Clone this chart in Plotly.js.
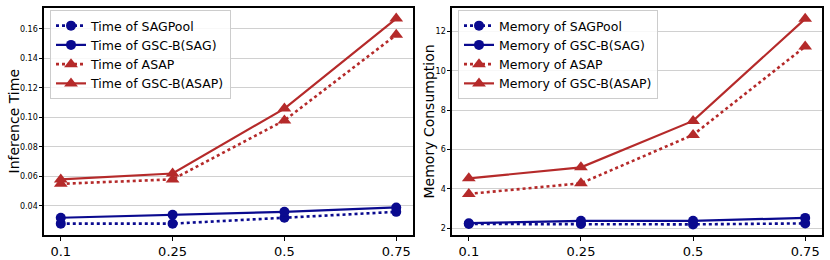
<!DOCTYPE html>
<html>
<head>
<meta charset="utf-8">
<script src="https://cdn.plot.ly/plotly-3.0.1.min.js"></script>
<style>html,body{margin:0;padding:0;background:#fff;}#chart{width:830px;height:260px;}</style>
</head>
<body>
<div id="chart"></div>
<script>
const categories = ["0.1", "0.25", "0.5", "0.75"];

const timeSAGPool = [0.028, 0.028, 0.032, 0.036];
const timeGSCSAG = [0.032, 0.034, 0.036, 0.039];
const timeASAP = [0.055, 0.058, 0.098, 0.156];
const timeGSCASAP = [0.058, 0.062, 0.106, 0.167];

const memSAGPool = [2.22, 2.22, 2.2, 2.25];
const memGSCSAG = [2.26, 2.38, 2.38, 2.53];
const memASAP = [3.75, 4.29, 6.75, 11.24];
const memGSCASAP = [4.54, 5.1, 7.46, 12.65];

const yTitles = ['Inference Time', 'Memory Consumption'];

const blue = '#0a0a8f';
const red = '#b52a2a';

function tr(y, name, color, dash, symbol, xa, ya, legend) {
  return {
    x: categories, y: y, name: name, type: 'scatter', mode: 'lines+markers',
    xaxis: xa, yaxis: ya, legend: legend,
    line: {color: color, width: dash === 'dot' ? 2.6 : 2.2, dash: dash},
    marker: {color: color, symbol: symbol, size: symbol === 'circle' ? 10 : 12}
  };
}

const data = [
  tr(timeSAGPool, 'Time of SAGPool', blue, 'dot', 'circle', 'x', 'y', 'legend'),
  tr(timeGSCSAG, 'Time of GSC-B(SAG)', blue, 'solid', 'circle', 'x', 'y', 'legend'),
  tr(timeASAP, 'Time of ASAP', red, 'dot', 'triangle-up', 'x', 'y', 'legend'),
  tr(timeGSCASAP, 'Time of GSC-B(ASAP)', red, 'solid', 'triangle-up', 'x', 'y', 'legend'),
  tr(memSAGPool, 'Memory of SAGPool', blue, 'dot', 'circle', 'x2', 'y2', 'legend2'),
  tr(memGSCSAG, 'Memory of GSC-B(SAG)', blue, 'solid', 'circle', 'x2', 'y2', 'legend2'),
  tr(memASAP, 'Memory of ASAP', red, 'dot', 'triangle-up', 'x2', 'y2', 'legend2'),
  tr(memGSCASAP, 'Memory of GSC-B(ASAP)', red, 'solid', 'triangle-up', 'x2', 'y2', 'legend2')
];

const font = 'DejaVu Sans, sans-serif';
const xCommon = {
  type: 'category', range: [-0.15, 3.15], showgrid: false, zeroline: false,
  showline: true, mirror: true, linecolor: '#000', linewidth: 1.6,
  ticks: 'outside', ticklen: 4, tickcolor: '#000', tickwidth: 1,
  tickfont: {size: 13, color: '#000', family: font}
};
const yCommon = {
  showgrid: true, gridcolor: '#d0d0d0', gridwidth: 1, zeroline: false,
  showline: true, mirror: true, linecolor: '#000', linewidth: 1.6,
  ticks: 'outside', ticklen: 3, tickcolor: '#000', tickwidth: 1,
  tickfont: {size: 8, color: '#000', family: font}
};
const legendCommon = {
  bgcolor: 'rgba(255,255,255,0.85)', bordercolor: '#cccccc', borderwidth: 1,
  font: {size: 12.5, color: '#000', family: font}, xanchor: 'left', yanchor: 'top',
  tracegroupgap: 0, itemwidth: 30
};

const titleFont = {size: 14, color: '#000', family: font};
const yMid = 1 - ((8 + 235) / 2) / 260;

const layout = {
  width: 830, height: 260,
  margin: {l: 0, r: 0, t: 0, b: 0},
  paper_bgcolor: '#fff', plot_bgcolor: '#fff',
  showlegend: true,
  xaxis: Object.assign({}, xCommon, {domain: [44/830, 413/830], anchor: 'y'}),
  yaxis: Object.assign({}, yCommon, {domain: [25/260, 252/260], anchor: 'x',
    range: [0.0203, 0.1742], tickvals: [0.04, 0.06, 0.08, 0.10, 0.12, 0.14, 0.16],
    ticktext: ['0.04', '0.06', '0.08', '0.10', '0.12', '0.14', '0.16']}),
  xaxis2: Object.assign({}, xCommon, {domain: [452/830, 822/830], anchor: 'y2'}),
  yaxis2: Object.assign({}, yCommon, {domain: [25/260, 252/260], anchor: 'x2',
    range: [1.66, 13.2], tickvals: [2, 4, 6, 8, 10, 12]}),
  legend: Object.assign({}, legendCommon, {x: 50/830, y: 1 - 10/260, xref: 'paper', yref: 'paper'}),
  legend2: Object.assign({}, legendCommon, {x: 458/830, y: 1 - 10/260, xref: 'paper', yref: 'paper'}),
  annotations: [
    {text: yTitles[0], xref: 'paper', yref: 'paper', x: 13/830, y: yMid, textangle: -90,
     showarrow: false, font: titleFont, xanchor: 'center', yanchor: 'middle'},
    {text: yTitles[1], xref: 'paper', yref: 'paper', x: 428/830, y: yMid, textangle: -90,
     showarrow: false, font: titleFont, xanchor: 'center', yanchor: 'middle'}
  ]
};

Plotly.newPlot('chart', data, layout, {staticPlot: true, displayModeBar: false});
</script>
</body>
</html>
